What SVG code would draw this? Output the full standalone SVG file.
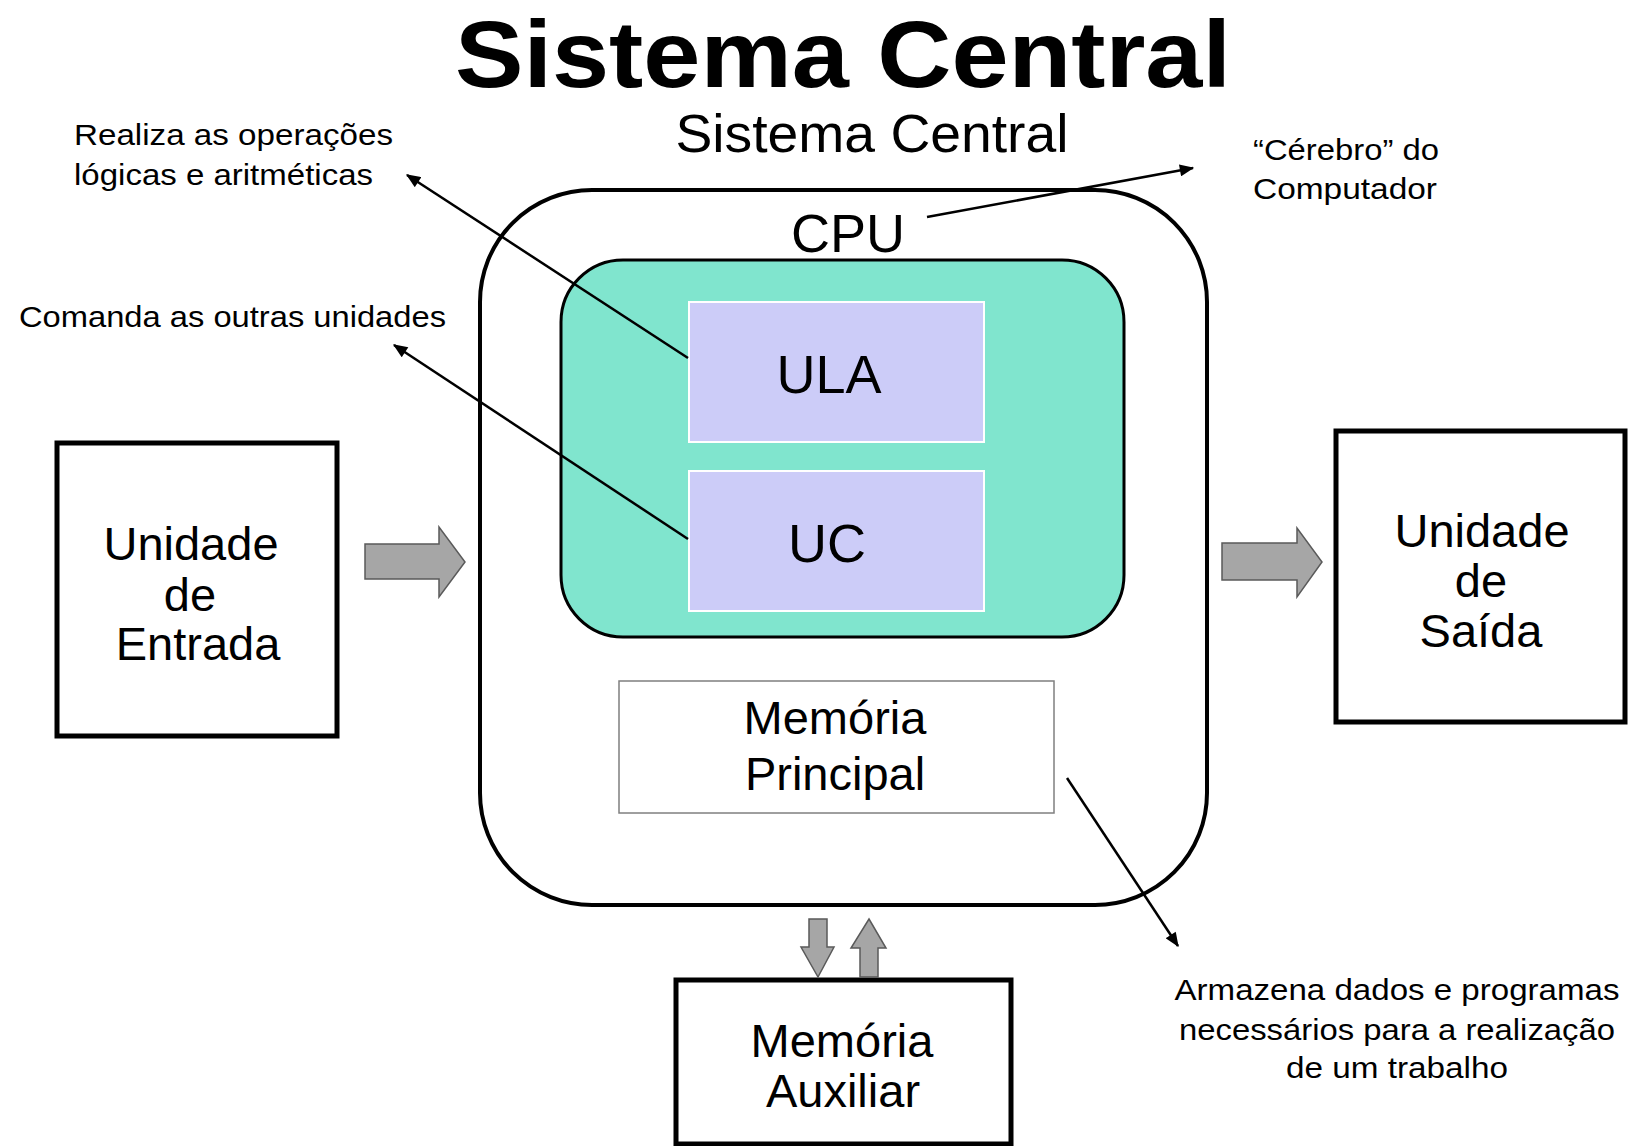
<svg xmlns="http://www.w3.org/2000/svg" width="1629" height="1146" viewBox="0 0 1629 1146">
<style>
text{font-family:"Liberation Sans",Arial,sans-serif;fill:#000}
.title{font-weight:bold;font-size:95px}
.big{font-size:54px}
.mid{font-size:47px}
.ann{font-size:29px}
.box{fill:#fff;stroke:#000;stroke-width:5}
.blk{fill:#a6a6a6;stroke:#5a5a5a;stroke-width:1.5}
.lnk{fill:none;stroke:#000;stroke-width:2.5;marker-end:url(#ah)}
</style>
<defs>
<marker id="ah" viewBox="0 0 12 10" refX="11" refY="5" markerWidth="15" markerHeight="12" markerUnits="userSpaceOnUse" orient="auto">
<path d="M0,0 L12,5 L0,10 z" fill="#000"/>
</marker>
</defs>
<rect width="1629" height="1146" fill="#fff"/>
<g id="titles">
<text class="title" x="843" y="87" text-anchor="middle" textLength="776" lengthAdjust="spacingAndGlyphs">Sistema Central</text>
<text class="big" x="872" y="152" text-anchor="middle" textLength="393" lengthAdjust="spacingAndGlyphs">Sistema Central</text>
</g>
<g id="sistema-central">
<rect x="480" y="190" width="727" height="715" rx="112" ry="112" fill="#fff" stroke="#000" stroke-width="4"/>
<text class="big" x="848" y="252" text-anchor="middle">CPU</text>
</g>
<g id="cpu">
<rect x="561" y="260" width="563" height="377" rx="62" ry="62" fill="#80e5ce" stroke="#000" stroke-width="3"/>
</g>
<g id="ula">
<rect x="689" y="302" width="295" height="140" fill="#ccccf8" stroke="#fff" stroke-width="2"/>
<text class="big" x="829" y="393" text-anchor="middle">ULA</text>
</g>
<g id="uc">
<rect x="689" y="471" width="295" height="140" fill="#ccccf8" stroke="#fff" stroke-width="2"/>
<text class="big" x="827" y="562" text-anchor="middle">UC</text>
</g>
<g id="memoria-principal">
<rect x="619" y="681" width="435" height="132" fill="#fff" stroke="#7f7f7f" stroke-width="1.5"/>
<text class="mid" x="835" y="734" text-anchor="middle">Memória</text>
<text class="mid" x="835" y="790" text-anchor="middle">Principal</text>
</g>
<g id="unidade-entrada">
<rect class="box" x="57" y="443" width="280" height="293"/>
<text class="mid" x="191" y="560" text-anchor="middle">Unidade</text>
<text class="mid" x="190" y="611" text-anchor="middle">de</text>
<text class="mid" x="198" y="660" text-anchor="middle">Entrada</text>
</g>
<g id="unidade-saida">
<rect class="box" x="1336" y="431" width="289" height="291"/>
<text class="mid" x="1482" y="547" text-anchor="middle">Unidade</text>
<text class="mid" x="1481" y="597" text-anchor="middle">de</text>
<text class="mid" x="1481" y="647" text-anchor="middle">Saída</text>
</g>
<g id="memoria-auxiliar">
<rect class="box" x="676" y="980" width="335" height="164"/>
<text class="mid" x="842" y="1057" text-anchor="middle">Memória</text>
<text class="mid" x="843" y="1107" text-anchor="middle">Auxiliar</text>
</g>
<g id="annotations">
<text class="ann" x="74" y="145" textLength="319" lengthAdjust="spacingAndGlyphs">Realiza as operações</text>
<text class="ann" x="74" y="185" textLength="299" lengthAdjust="spacingAndGlyphs">lógicas e aritméticas</text>
<text class="ann" x="19" y="327" textLength="427" lengthAdjust="spacingAndGlyphs">Comanda as outras unidades</text>
<text class="ann" x="1253" y="160" textLength="186" lengthAdjust="spacingAndGlyphs">“Cérebro” do</text>
<text class="ann" x="1253" y="199" textLength="184" lengthAdjust="spacingAndGlyphs">Computador</text>
<text class="ann" x="1397" y="1000" text-anchor="middle" textLength="445" lengthAdjust="spacingAndGlyphs">Armazena dados e programas</text>
<text class="ann" x="1397" y="1040" text-anchor="middle" textLength="436" lengthAdjust="spacingAndGlyphs">necessários para a realização</text>
<text class="ann" x="1397" y="1078" text-anchor="middle" textLength="222" lengthAdjust="spacingAndGlyphs">de um trabalho</text>
</g>
<g id="connectors">
<polygon class="blk" points="365,544 439,544 439,527 465,562 439,597 439,579 365,579"/>
<polygon class="blk" points="1222,543 1297,543 1297,528 1322,562 1297,597 1297,580 1222,580"/>
<polygon class="blk" points="809,919 827,919 827,947 834,947 818,977 801,947 809,947"/>
<polygon class="blk" points="869,919 886,948 878,948 878,977 860,977 860,948 851,948"/>
<line class="lnk" x1="688" y1="358" x2="407" y2="175"/>
<line class="lnk" x1="688" y1="539" x2="394" y2="345"/>
<line class="lnk" x1="927" y1="217" x2="1193" y2="168"/>
<line class="lnk" x1="1067" y1="778" x2="1178" y2="946"/>
</g>
</svg>
